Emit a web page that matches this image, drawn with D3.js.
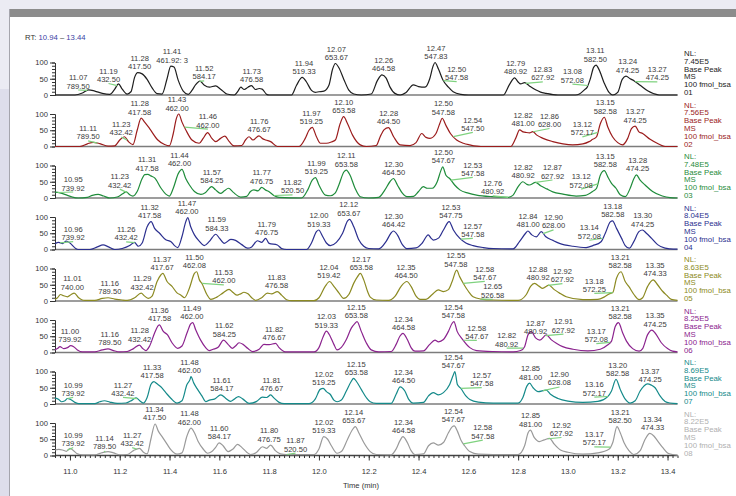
<!DOCTYPE html>
<html>
<head>
<meta charset="utf-8">
<script src="https://cdn.jsdelivr.net/npm/d3@7"></script>
<style>
  html, body { margin: 0; padding: 0; background: #e4e4ee; }
  svg { display: block; font-family: 'Liberation Sans', Arial, sans-serif; }
</style>
</head>
<body>
<svg width="736" height="496"></svg>
<script>
/* global d3 */

// ---- data (RT in min, relative abundance in %) ----
const rtRange = [10.94, 13.44]
const xTicks = [11.0, 11.2, 11.4, 11.6, 11.8, 12.0, 12.2, 12.4, 12.6, 12.8, 13.0, 13.2, 13.4]
const yTicks = [0, 50, 100]
const sampleNames = ['01', '02', '03', '04', '05', '06', '07', '08']
const nlValues = ['7.45E5', '7.56E5', '7.48E5', '8.04E5', '8.63E5', '8.25E5', '8.69E5', '8.22E5']

const trace1 = [[10.94,0],[11.02,0],[11.05,6],[11.075,16],[11.10,12],[11.13,5],[11.16,2],[11.18,18],[11.195,34],[11.21,18],[11.23,3],[11.245,10],[11.26,55],[11.272,69],[11.29,65],[11.31,48],[11.33,22],[11.35,4],[11.37,3],[11.39,50],[11.405,89],[11.418,86],[11.435,45],[11.455,12],[11.475,2],[11.49,14],[11.505,32],[11.522,43],[11.54,30],[11.56,24],[11.585,28],[11.605,18],[11.63,3],[11.66,0],[11.675,12],[11.686,24],[11.70,17],[11.715,24],[11.729,29],[11.745,17],[11.76,20],[11.772,18],[11.79,2],[11.80,0],[11.89,0],[11.91,30],[11.933,54],[11.95,40],[11.97,14],[11.985,8],[12.00,10],[12.02,12],[12.04,30],[12.055,80],[12.066,97],[12.08,84],[12.10,48],[12.12,15],[12.14,3],[12.17,0],[12.21,3],[12.235,45],[12.253,62],[12.27,52],[12.285,25],[12.305,5],[12.326,0],[12.35,8],[12.379,31],[12.40,26],[12.426,24],[12.445,50],[12.458,88],[12.466,100],[12.48,80],[12.498,46],[12.52,24],[12.539,10],[12.57,2],[12.60,0],[12.74,0],[12.765,32],[12.786,53],[12.80,40],[12.81,34],[12.826,38],[12.845,28],[12.87,16],[12.89,9],[12.913,5],[12.94,1],[12.96,0],[13.03,0],[13.046,3],[13.065,15],[13.078,25],[13.09,50],[13.103,85],[13.113,92],[13.125,78],[13.145,38],[13.165,8],[13.18,0],[13.20,8],[13.218,48],[13.233,58],[13.25,50],[13.265,44],[13.29,30],[13.32,13],[13.345,4],[13.366,0],[13.44,0]]

const trace2 = [[10.94,0],[11.04,0],[11.07,8],[11.093,13],[11.12,9],[11.153,1],[11.18,2],[11.20,20],[11.219,30],[11.235,15],[11.253,6],[11.27,50],[11.286,87],[11.30,75],[11.32,55],[11.353,20],[11.38,6],[11.399,2],[11.415,40],[11.427,85],[11.437,100],[11.45,75],[11.466,50],[11.49,20],[11.519,10],[11.535,25],[11.553,43],[11.57,25],[11.586,15],[11.605,25],[11.622,32],[11.64,15],[11.659,2],[11.69,3],[11.705,20],[11.719,30],[11.735,20],[11.759,33],[11.772,25],[11.786,20],[11.806,15],[11.833,0],[11.92,0],[11.945,25],[11.96,50],[11.973,59],[11.99,30],[12.006,10],[12.03,10],[12.05,14],[12.066,20],[12.085,70],[12.099,92],[12.115,70],[12.135,35],[12.166,5],[12.19,0],[12.23,3],[12.246,30],[12.262,52],[12.279,58],[12.30,30],[12.326,5],[12.366,3],[12.39,12],[12.413,40],[12.43,28],[12.446,25],[12.47,40],[12.485,70],[12.495,87],[12.51,65],[12.528,40],[12.553,20],[12.58,10],[12.606,5],[12.65,0],[12.77,0],[12.79,25],[12.806,51],[12.82,45],[12.833,43],[12.846,42],[12.859,46],[12.875,35],[12.90,25],[12.939,15],[12.98,8],[13.019,5],[13.06,8],[13.085,15],[13.099,22],[13.115,30],[13.13,70],[13.146,90],[13.16,60],[13.179,30],[13.20,12],[13.219,5],[13.24,25],[13.255,55],[13.27,63],[13.285,45],[13.30,40],[13.33,22],[13.366,7],[13.39,0],[13.44,0]]

const trace3 = [[10.94,18],[10.96,16],[10.99,8],[11.01,3],[11.033,0],[11.07,2],[11.09,8],[11.113,11],[11.135,6],[11.16,0],[11.19,3],[11.21,12],[11.226,19],[11.24,10],[11.253,6],[11.27,20],[11.29,60],[11.30,72],[11.313,73],[11.325,68],[11.34,62],[11.366,30],[11.385,12],[11.399,6],[11.415,30],[11.435,75],[11.45,88],[11.465,60],[11.48,40],[11.50,20],[11.526,11],[11.545,17],[11.569,35],[11.585,25],[11.605,14],[11.62,22],[11.637,30],[11.655,18],[11.686,3],[11.71,5],[11.725,20],[11.739,25],[11.755,22],[11.77,33],[11.785,25],[11.80,19],[11.819,8],[11.84,2],[11.93,0],[11.955,25],[11.973,55],[11.986,63],[12.00,40],[12.026,9],[12.046,7],[12.065,15],[12.08,40],[12.10,80],[12.11,86],[12.125,70],[12.145,30],[12.166,4],[12.20,0],[12.24,2],[12.265,25],[12.285,50],[12.299,60],[12.315,40],[12.335,15],[12.353,4],[12.38,5],[12.40,20],[12.419,35],[12.435,30],[12.455,30],[12.475,50],[12.49,85],[12.497,96],[12.51,70],[12.525,60],[12.545,40],[12.566,25],[12.60,15],[12.633,9],[12.699,4],[12.76,2],[12.779,8],[12.80,35],[12.819,50],[12.835,42],[12.845,40],[12.87,48],[12.89,38],[12.915,28],[12.939,19],[12.98,12],[13.033,6],[13.07,8],[13.099,20],[13.115,30],[13.13,70],[13.146,84],[13.16,65],[13.175,45],[13.193,30],[13.21,10],[13.23,4],[13.25,30],[13.265,60],[13.275,71],[13.29,55],[13.31,40],[13.34,20],[13.379,6],[13.41,1],[13.44,0]]

const trace4 = [[10.94,18],[10.955,22],[10.97,18],[10.985,26],[11.00,20],[11.02,5],[11.033,0],[11.08,0],[11.11,8],[11.133,14],[11.155,8],[11.18,0],[11.21,3],[11.24,12],[11.259,22],[11.275,10],[11.29,20],[11.31,70],[11.326,86],[11.34,65],[11.36,50],[11.385,30],[11.406,24],[11.42,12],[11.433,6],[11.45,40],[11.465,85],[11.473,98],[11.485,70],[11.50,45],[11.52,25],[11.539,12],[11.56,25],[11.586,47],[11.60,35],[11.62,19],[11.646,31],[11.665,28],[11.69,15],[11.713,4],[11.73,8],[11.753,27],[11.77,22],[11.786,34],[11.80,19],[11.833,14],[11.85,3],[11.87,0],[11.95,0],[11.97,20],[11.99,55],[11.999,60],[12.015,40],[12.03,20],[12.046,12],[12.07,22],[12.095,50],[12.115,88],[12.123,93],[12.14,70],[12.16,30],[12.18,10],[12.20,3],[12.24,2],[12.27,25],[12.289,50],[12.299,57],[12.315,45],[12.335,15],[12.353,3],[12.39,5],[12.415,20],[12.439,45],[12.45,35],[12.46,29],[12.48,35],[12.50,60],[12.523,86],[12.54,60],[12.566,34],[12.59,20],[12.619,12],[12.66,6],[12.70,3],[12.78,2],[12.806,25],[12.83,50],[12.839,57],[12.855,45],[12.873,39],[12.893,55],[12.91,40],[12.94,28],[12.966,19],[13.02,10],[13.073,6],[13.10,12],[13.133,24],[13.15,50],[13.17,85],[13.179,88],[13.195,65],[13.215,35],[13.23,12],[13.246,4],[13.265,25],[13.285,55],[13.299,60],[13.315,50],[13.335,35],[13.36,15],[13.39,4],[13.41,2],[13.44,1]]

const trace5 = [[10.94,5],[10.95,10],[10.962,20],[10.975,16],[10.99,13],[11.005,20],[11.017,24],[11.035,10],[11.05,3],[11.06,2],[11.10,2],[11.13,8],[11.153,10],[11.18,6],[11.21,3],[11.23,2],[11.26,10],[11.286,24],[11.30,15],[11.315,8],[11.33,15],[11.35,60],[11.365,80],[11.373,85],[11.39,60],[11.41,45],[11.43,25],[11.446,18],[11.46,10],[11.48,40],[11.50,85],[11.509,90],[11.52,65],[11.53,54],[11.55,20],[11.566,5],[11.59,12],[11.615,25],[11.639,36],[11.655,26],[11.672,18],[11.685,22],[11.699,27],[11.715,22],[11.73,10],[11.746,2],[11.77,10],[11.793,24],[11.81,22],[11.833,29],[11.85,18],[11.87,4],[11.89,1],[11.98,1],[12.00,10],[12.025,45],[12.043,60],[12.06,45],[12.08,25],[12.099,8],[12.12,20],[12.14,55],[12.155,75],[12.166,85],[12.18,65],[12.195,30],[12.206,12],[12.23,3],[12.28,2],[12.306,15],[12.33,45],[12.353,60],[12.37,45],[12.39,15],[12.406,5],[12.43,5],[12.455,20],[12.479,34],[12.50,29],[12.52,35],[12.535,60],[12.553,95],[12.565,75],[12.58,54],[12.60,30],[12.619,13],[12.65,6],[12.70,3],[12.80,2],[12.833,20],[12.85,45],[12.866,54],[12.885,45],[12.898,39],[12.923,49],[12.945,35],[12.965,25],[12.993,13],[13.06,4],[13.12,5],[13.145,12],[13.166,22],[13.18,26],[13.195,70],[13.213,90],[13.23,60],[13.245,44],[13.265,20],[13.286,4],[13.30,10],[13.32,45],[13.342,65],[13.36,50],[13.38,30],[13.396,18],[13.415,5],[13.44,2]]

const trace6 = [[10.94,8],[10.95,12],[10.96,18],[10.975,12],[10.99,15],[11.003,21],[11.015,18],[11.03,8],[11.05,2],[11.10,2],[11.13,8],[11.153,11],[11.175,6],[11.20,2],[11.23,3],[11.255,12],[11.279,23],[11.29,14],[11.305,6],[11.32,20],[11.34,60],[11.352,80],[11.359,85],[11.375,65],[11.392,54],[11.41,30],[11.433,13],[11.45,20],[11.47,60],[11.485,88],[11.493,92],[11.505,70],[11.525,38],[11.545,15],[11.559,6],[11.575,10],[11.595,16],[11.617,38],[11.635,25],[11.652,13],[11.665,20],[11.679,30],[11.695,25],[11.715,12],[11.733,3],[11.76,10],[11.779,25],[11.80,24],[11.826,28],[11.84,15],[11.865,2],[11.98,2],[12.00,15],[12.015,45],[12.03,66],[12.045,50],[12.06,25],[12.073,8],[12.09,16],[12.11,40],[12.13,75],[12.143,88],[12.153,95],[12.17,65],[12.19,30],[12.21,8],[12.24,2],[12.29,3],[12.31,25],[12.325,50],[12.337,59],[12.355,40],[12.37,15],[12.386,4],[12.42,5],[12.445,25],[12.466,38],[12.48,33],[12.50,40],[12.52,65],[12.535,90],[12.542,95],[12.555,65],[12.575,42],[12.606,15],[12.633,6],[12.70,3],[12.78,2],[12.81,6],[12.826,18],[12.84,55],[12.853,64],[12.87,45],[12.887,38],[12.913,54],[12.935,38],[12.955,28],[12.979,18],[13.02,10],[13.08,5],[13.13,10],[13.159,23],[13.175,35],[13.19,80],[13.203,92],[13.22,60],[13.235,35],[13.26,12],[13.286,4],[13.30,12],[13.32,55],[13.337,69],[13.35,60],[13.375,30],[13.40,12],[13.42,4],[13.44,2]]

const trace7 = [[10.94,18],[10.955,14],[10.965,7],[10.98,10],[10.99,17],[11.00,15],[11.02,5],[11.035,1],[11.10,1],[11.12,7],[11.139,10],[11.16,6],[11.19,2],[11.225,3],[11.25,12],[11.266,19],[11.28,10],[11.295,3],[11.31,20],[11.325,60],[11.337,69],[11.35,62],[11.365,53],[11.385,35],[11.406,17],[11.43,3],[11.45,10],[11.47,60],[11.482,75],[11.486,84],[11.497,65],[11.51,48],[11.53,25],[11.546,7],[11.56,12],[11.58,15],[11.606,28],[11.625,18],[11.645,8],[11.66,15],[11.677,23],[11.695,15],[11.72,2],[11.75,8],[11.773,21],[11.79,20],[11.806,28],[11.82,18],[11.84,5],[11.86,1],[11.96,1],[11.985,15],[12.005,45],[12.017,48],[12.03,38],[12.045,30],[12.06,12],[12.073,7],[12.09,12],[12.11,40],[12.13,70],[12.139,79],[12.15,70],[12.17,45],[12.19,20],[12.206,7],[12.23,2],[12.29,2],[12.31,30],[12.326,53],[12.345,40],[12.36,15],[12.379,3],[12.42,5],[12.44,25],[12.459,35],[12.48,28],[12.50,35],[12.525,60],[12.54,90],[12.546,100],[12.556,60],[12.57,48],[12.59,25],[12.606,14],[12.64,6],[12.70,3],[12.80,3],[12.819,20],[12.835,55],[12.846,64],[12.86,50],[12.88,38],[12.913,43],[12.93,30],[12.96,17],[13.00,9],[13.06,5],[13.12,8],[13.159,22],[13.175,40],[13.193,76],[13.21,45],[13.23,15],[13.25,3],[13.27,10],[13.29,40],[13.305,55],[13.319,62],[13.335,58],[13.35,50],[13.37,25],[13.39,8],[13.41,3],[13.44,1]]

const trace8 = [[10.94,17],[10.955,19],[10.97,17],[10.985,13],[11.00,22],[11.01,18],[11.03,5],[11.05,2],[11.10,2],[11.13,9],[11.153,12],[11.175,8],[11.20,2],[11.23,3],[11.255,15],[11.279,22],[11.295,10],[11.31,5],[11.325,50],[11.342,97],[11.355,75],[11.37,58],[11.39,35],[11.406,17],[11.43,4],[11.45,8],[11.47,60],[11.486,84],[11.50,70],[11.515,43],[11.535,20],[11.553,7],[11.57,12],[11.585,25],[11.599,39],[11.615,30],[11.635,12],[11.655,20],[11.673,34],[11.69,25],[11.71,10],[11.725,3],[11.75,10],[11.773,27],[11.79,22],[11.806,32],[11.825,15],[11.845,5],[11.87,3],[11.92,3],[11.98,3],[12.00,20],[12.019,58],[12.035,50],[12.05,30],[12.073,7],[12.09,12],[12.115,50],[12.135,80],[12.146,89],[12.16,70],[12.18,40],[12.206,12],[12.23,3],[12.29,2],[12.31,20],[12.325,45],[12.337,58],[12.355,40],[12.37,15],[12.386,3],[12.42,5],[12.44,30],[12.459,39],[12.48,32],[12.50,40],[12.52,70],[12.535,88],[12.543,91],[12.556,75],[12.57,48],[12.585,30],[12.606,12],[12.64,4],[12.70,3],[12.80,3],[12.826,30],[12.84,70],[12.849,78],[12.865,55],[12.885,43],[12.905,48],[12.926,53],[12.945,35],[12.97,17],[13.00,10],[13.06,4],[13.12,8],[13.166,20],[13.18,40],[13.197,89],[13.21,70],[13.225,40],[13.245,15],[13.265,3],[13.29,15],[13.31,50],[13.329,68],[13.345,60],[13.36,45],[13.38,25],[13.40,8],[13.42,3],[13.44,1]]

// peak labels: [rt, m/z] sit on the apex; [rt, m/z, labelRt, labelLevel, pointer] are moved aside
const labels1 = [['11.07','789.50',11.033,20],['11.19','432.50',11.155,40],['11.28','417.50'],['11.41','461.92: 3'],['11.52','584.17',11.539,48],['11.73','476.58'],['11.94','519.33'],['12.07','653.67'],['12.26','464.58'],['12.47','547.83'],['12.50','547.58',12.553,46],['12.79','480.92'],['12.83','627.92',12.899,45],['13.08','572.08',13.018,38],['13.11','582.50'],['13.24','474.25'],['13.27','474.25',13.359,45]]
const labels2 = [['11.11','789.50',11.073,22],['11.23','432.42',11.206,34],['11.28','417.58'],['11.43','462.00'],['11.46','462.00',11.554,58],['11.76','476.67'],['11.97','519.25'],['12.10','653.58'],['12.28','464.50'],['12.50','547.58'],['12.54','547.50',12.618,48],['12.82','481.00'],['12.86','628.00',12.926,60],['13.12','572.17',13.058,34],['13.15','582.58'],['13.27','474.25']]
const labels3 = [['10.95','739.92',11.013,23],['11.23','432.42',11.2,32],['11.31','417.58'],['11.44','462.00'],['11.57','584.25'],['11.77','476.75'],['11.82','520.50',11.894,14],['11.99','519.25'],['12.11','653.58'],['12.30','464.50'],['12.50','547.67'],['12.53','547.58',12.618,68],['12.76','480.92',12.698,11],['12.82','480.92'],['12.87','627.92',12.938,60],['13.12','572.08',13.053,32],['13.15','582.58'],['13.28','474.25']]
const labels4 = [['10.96','739.92',11.013,29],['11.26','432.42',11.226,28],['11.32','417.58'],['11.47','462.00'],['11.59','584.33'],['11.79','476.75'],['12.00','519.33'],['12.12','653.67'],['12.30','464.42'],['12.53','547.75'],['12.57','547.58',12.618,39],['12.84','481.00'],['12.90','628.00',12.942,65],['13.14','572.08',13.086,33],['13.18','582.58'],['13.30','474.25']]
const labels5 = [['11.01','740.00'],['11.16','789.50'],['11.29','432.42'],['11.37','417.67'],['11.50','462.08'],['11.53','462.00',11.618,54],['11.83','476.58'],['12.04','519.42'],['12.17','653.58'],['12.35','464.50'],['12.55','547.58'],['12.58','547.67',12.666,65],['12.65','526.58',12.698,10],['12.88','480.92'],['12.92','627.92',12.978,58],['13.18','572.25',13.106,28],['13.21','582.58'],['13.35','474.33']]
const labels6 = [['11.00','739.92'],['11.16','789.50'],['11.28','432.42'],['11.36','417.58'],['11.49','462.00'],['11.62','584.25'],['11.82','476.67'],['12.03','519.33'],['12.15','653.58'],['12.34','464.58'],['12.54','547.58'],['12.58','547.67',12.634,42],['12.82','480.92',12.754,18],['12.87','480.92'],['12.91','627.92',12.982,61],['13.17','572.08',13.114,32],['13.21','582.58'],['13.35','474.25']]
const labels7 = [['10.99','739.92',11.013,25],['11.27','432.42',11.213,25],['11.33','417.58'],['11.48','462.00'],['11.61','584.17'],['11.81','476.67'],['12.02','519.25'],['12.15','653.58'],['12.34','464.50'],['12.54','547.67'],['12.57','547.58',12.654,55],['12.85','481.00'],['12.90','628.08',12.966,57],['13.16','572.17',13.106,26],['13.20','582.58'],['13.37','474.25',13.33,68,false]]
const labels8 = [['10.99','739.92',11.013,29],['11.14','789.50',11.139,19],['11.27','432.42',11.25,29],['11.34','417.50'],['11.48','462.00'],['11.60','584.17'],['11.80','476.75'],['11.87','520.50',11.906,12],['12.02','519.33'],['12.14','653.67'],['12.34','464.58'],['12.54','547.67'],['12.58','547.58',12.658,52],['12.85','481.00'],['12.92','627.92',12.974,60],['13.17','572.17',13.106,31],['13.21','582.50'],['13.34','474.33']]

const traces = [trace1, trace2, trace3, trace4, trace5, trace6, trace7, trace8]
const labelSets = [labels1, labels2, labels3, labels4, labels5, labels6, labels7, labels8]

// ---- styles ----
const traceColors = ['#1e1e1e', '#9b1c1c', '#1f8c3b', '#2b2f8f', '#8c8a22', '#8b238e', '#158a8a', '#9a9a9a']
const legendColors = ['#222', '#9b1c1c', '#1f8c3b', '#2b2f8f', '#8c8a22', '#8b238e', '#158a8a', '#b0b0b0']
const labelColor = '#3a3a3a'
const pointerColor = '#7fd27f'

const svg = d3.select('svg')

// window frame
svg.append('rect').attr('width', 736).attr('height', 496).attr('fill', '#dedeeb')
svg.append('rect').attr('width', 736).attr('height', 9).attr('fill', '#ebebf3')
svg.append('rect').attr('y', 9).attr('width', 9).attr('height', 80).attr('fill', '#ebebf3')
svg.append('rect').attr('x', 9).attr('y', 9).attr('width', 727).attr('height', 487).attr('fill', '#fff')
svg.append('rect').attr('x', 9).attr('y', 9).attr('width', 727).attr('height', 8).attr('fill', '#8c8c8c')
svg.append('line').attr('x1', 9.5).attr('x2', 9.5).attr('y1', 9).attr('y2', 496)
  .attr('stroke', '#a5a5ad').attr('stroke-width', 1)

// RT header
const head = svg.append('text').attr('x', 25).attr('y', 39.5).attr('font-size', 7.7)
head.append('tspan').attr('fill', '#333').text('RT: ')
head.append('tspan').attr('fill', '#3b3fa5').text('10.94')
head.append('tspan').attr('fill', '#333').text(' \u2013 ')
head.append('tspan').attr('fill', '#3b3fa5').text('13.44')

const x = d3.scaleLinear().domain(rtRange).range([55, 677.5])
const firstBase = 95
const step = 51.5
const panelHeight = 32.5

const valueAt = (trace, rt) => {
  const i = d3.bisector(d => d[0]).left(trace, rt)
  if (i <= 0) return trace[0][1]
  if (i >= trace.length) return trace[trace.length - 1][1]
  const a = trace[i - 1]
  const b = trace[i]
  return a[1] + (b[1] - a[1]) * (rt - a[0]) / (b[0] - a[0])
}
const apexAt = (trace, rt) => {
  const near = trace.filter(d => Math.abs(d[0] - rt) <= 0.015).map(d => d[1])
  return Math.max(valueAt(trace, rt), ...near)
}

const styleAxis = (g) => {
  g.attr('font-family', null).attr('font-size', null)
  g.selectAll('path, line').attr('stroke', '#333')
  g.selectAll('text').attr('font-size', 7.6).attr('fill', '#333')
}

traces.forEach((trace, i) => {
  const base = firstBase + i * step
  const y = d3.scaleLinear().domain([0, 100]).range([base, base - panelHeight])
  const g = svg.append('g')

  // baseline
  g.append('line')
    .attr('x1', x(rtRange[0])).attr('x2', x(rtRange[1]))
    .attr('y1', base).attr('y2', base)
    .attr('stroke', i === traces.length - 1 ? '#444' : '#7c7c7c')
    .attr('stroke-width', 1.6)

  // y axis with minor ticks
  g.append('g')
    .attr('transform', 'translate(' + x(rtRange[0]) + ',0)')
    .call(d3.axisLeft(y).tickValues(d3.range(0, 101, 10)).tickSize(3).tickSizeOuter(0).tickFormat(''))
    .call(styleAxis)
  g.append('g')
    .attr('transform', 'translate(' + x(rtRange[0]) + ',0)')
    .call(d3.axisLeft(y).tickValues(yTicks).tickSize(5).tickSizeOuter(0).tickPadding(2))
    .call(styleAxis)

  // trace
  const line = d3.line()
    .x(d => x(d[0]))
    .y(d => y(d[1]))
    .curve(d3.curveMonotoneX)
  g.append('path')
    .datum(trace)
    .attr('d', line)
    .attr('fill', 'none')
    .attr('stroke', traceColors[i])
    .attr('stroke-width', 1.2)
    .attr('stroke-linejoin', 'round')

  // peak labels
  labelSets[i].forEach((l) => {
    const [rtText, mz, lx, ly, pointer] = l
    const rt = +rtText
    let cx, by
    if (lx === undefined) {
      cx = x(rt)
      by = y(apexAt(trace, rt)) - 3.5
    } else {
      cx = x(lx)
      by = y(ly)
      if (pointer !== false) {
        g.append('line')
          .attr('x1', x(rt)).attr('y1', y(valueAt(trace, rt)))
          .attr('x2', cx).attr('y2', by + 1.5)
          .attr('stroke', pointerColor)
          .attr('stroke-width', 1.2)
      }
    }
    g.append('text').attr('x', cx).attr('y', by - 8.3)
      .attr('text-anchor', 'middle').attr('font-size', 7.6).attr('fill', labelColor)
      .text(rtText)
    g.append('text').attr('x', cx).attr('y', by)
      .attr('text-anchor', 'middle').attr('font-size', 7.6).attr('fill', labelColor)
      .text(mz)
  })

  // legend
  const legendLines = ['NL:', nlValues[i], 'Base Peak', 'MS', '100 fmol_bsa', sampleNames[i]]
  g.selectAll('.legend')
    .data(legendLines)
    .enter().append('text')
    .attr('class', 'legend')
    .attr('x', 684)
    .attr('y', (d, k) => base - 39 + k * 7.8)
    .attr('font-size', 7.8)
    .attr('fill', legendColors[i])
    .text(d => d)

  // time axis under the last trace
  if (i === traces.length - 1) {
    const minor = d3.range(547, 673).map(v => v / 50)
    g.append('g')
      .attr('transform', 'translate(0,' + base + ')')
      .call(d3.axisBottom(x).tickValues(minor).tickSize(2.5).tickSizeOuter(0).tickFormat(''))
      .call(styleAxis)
      .select('.domain').remove()
    g.append('g')
      .attr('transform', 'translate(0,' + base + ')')
      .call(d3.axisBottom(x).tickValues(xTicks).tickSize(5).tickSizeOuter(0).tickPadding(8).tickFormat(d3.format('.1f')))
      .call(styleAxis)
      .select('.domain').remove()
    g.append('text')
      .attr('x', 361).attr('y', 487.5)
      .attr('text-anchor', 'middle').attr('font-size', 7.6).attr('fill', '#333')
      .text('Time (min)')
  }
})
</script>
</body>
</html>
